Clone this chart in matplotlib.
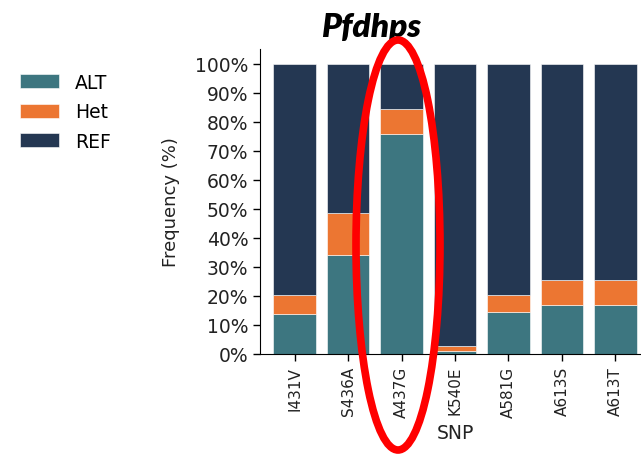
import matplotlib
matplotlib.use("Agg")
import matplotlib.pyplot as plt
from matplotlib.patches import Ellipse
import numpy as np

# datos (porcentaje)
snps = ['I431V', 'S436A', 'A437G', 'K540E', 'A581G', 'A613S', 'A613T']
alt = [13.7, 34.1, 75.9, 0.9, 14.3, 17.0, 17.0]
het = [6.7, 14.6, 8.6, 2.0, 6.1, 8.6, 8.6]
ref = [100 - a - h for a, h in zip(alt, het)]

c_alt = '#3d7680'
c_het = '#ec7632'
c_ref = '#243752'

fig = plt.figure(figsize=(6.41, 4.56), dpi=100)
ax = fig.add_axes([260 / 641, 101 / 456, 390 / 641, 305 / 456])

x = np.arange(len(snps))
b1 = ax.bar(x, alt, width=0.8, color=c_alt, edgecolor='white', linewidth=0.4, label='ALT')
b2 = ax.bar(x, het, width=0.8, bottom=alt, color=c_het, edgecolor='white', linewidth=0.4, label='Het')
abajo = [a + h for a, h in zip(alt, het)]
b3 = ax.bar(x, ref, width=0.8, bottom=abajo, color=c_ref, edgecolor='white', linewidth=0.4, label='REF')

ax.set_xlim(-0.645, len(snps) - 1 + 0.645)
ax.set_ylim(0, 105)
ax.set_yticks(range(0, 101, 10))
ax.set_yticklabels([f'{v}%' for v in range(0, 101, 10)], fontsize=13.5, color='#222222')
ax.set_xticks(x)
ax.set_xticklabels(snps, rotation=90, fontsize=11, color='#222222')
ax.set_xlabel('SNP', fontsize=13.5, color='#222222', labelpad=4)
ax.set_ylabel('Frequency (%)', fontsize=13, color='#222222', labelpad=11)
ax.spines['top'].set_visible(False)
ax.spines['right'].set_visible(False)
ax.tick_params(length=5, width=1)

fig.legend(handles=[b1, b2, b3], labels=['ALT', 'Het', 'REF'], loc='upper left',
           bbox_to_anchor=(3 / 641, 1 - 57 / 456), frameon=False, fontsize=13.5,
           handlelength=2.1, handleheight=0.75, handletextpad=0.85, labelspacing=0.55)

fig.text(371 / 641, 1 - 27 / 456, 'Pfdhps', fontsize=24, fontweight='heavy', fontstyle='italic',
         family='Lato', ha='center', va='center')

# ovalo rojo alrededor de A437G
ov = Ellipse((398 / 641, 1 - 246 / 456), 84 / 641, 410 / 456, transform=fig.transFigure,
             fill=False, edgecolor='#ff0000', linewidth=5.5, zorder=10)
fig.patches.append(ov)

fig.savefig('out.png', dpi=100)
